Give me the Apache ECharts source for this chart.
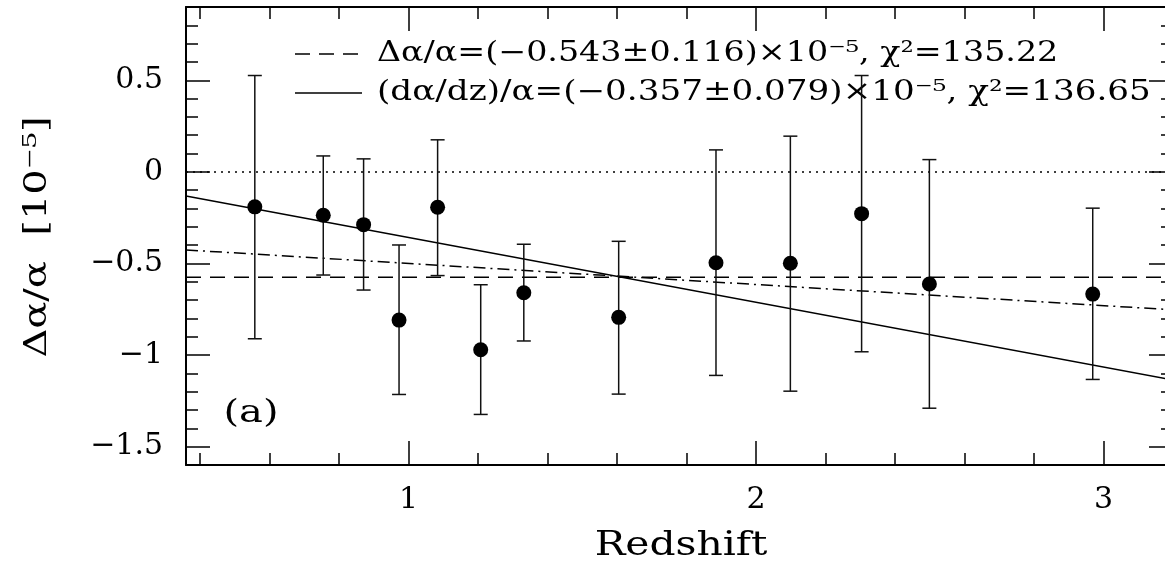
<!DOCTYPE html>
<html>
<head>
<meta charset="utf-8">
<script src="https://cdn.jsdelivr.net/npm/echarts@6/dist/echarts.min.js"></script>
<style>
html,body{margin:0;padding:0;background:#fff;}
#chart{width:1165px;height:567px;}
</style>
</head>
<body>
<div id="chart"></div>
<script>
// ---- data ----
const redshift = [0.558, 0.755, 0.871, 0.973, 1.084, 1.208, 1.332, 1.605, 1.885, 2.099, 2.304, 2.499, 2.969];
const dAlpha   = [-0.191, -0.237, -0.288, -0.809, -0.193, -0.971, -0.660, -0.794, -0.496, -0.499, -0.228, -0.612, -0.667];
const errLow   = [-0.911, -0.563, -0.645, -1.215, -0.566, -1.324, -0.923, -1.213, -1.111, -1.197, -0.982, -1.290, -1.133];
const errHigh  = [0.526, 0.087, 0.071, -0.399, 0.175, -0.616, -0.395, -0.379, 0.120, 0.195, 0.526, 0.067, -0.198];

const zeroLine    = [[0.36, 0], [3.2, 0]];
const weightedMean = [[0.36, -0.575], [3.2, -0.575]];
const slopeFit    = [[0.36, -0.132], [3.2, -1.136]];
const dashDotFit  = [[0.36, -0.426], [3.2, -0.753]];

const xMajorTicks = [1, 2, 3];
const xMinorTicks = [0.4, 0.6, 0.8, 1.2, 1.4, 1.6, 1.8, 2.2, 2.4, 2.6, 2.8, 3.0];
const yMajorTicks = [-1.5, -1, -0.5, 0, 0.5];
const yMinorTicks = [-1.4, -1.3, -1.2, -1.1, -0.9, -0.8, -0.7, -0.6, -0.4, -0.3, -0.2, -0.1, 0.1, 0.2, 0.3, 0.4, 0.6, 0.7, 0.8];

const legendTexts = [
  'Δα/α=(−0.543±0.116)×10⁻⁵, χ²=135.22',
  '(dα/dz)/α=(−0.357±0.079)×10⁻⁵, χ²=136.65'
];
const xTitle = 'Redshift';
const yTitle = 'Δα/α  [10⁻⁵]';
const panelLabel = '(a)';

// ---- chart ----
const FONT = 'DejaVu Serif';
const XMIN = 0.36, XMAX = 3.2, YMIN = -1.6, YMAX = 0.9;
const chart = echarts.init(document.getElementById('chart'), null, {renderer: 'canvas'});

function xAxisDef(position, ticks, len, showLabel, showLine) {
  return {
    type: 'value', position: position, min: XMIN, max: XMAX, gridIndex: 0,
    axisLine: {show: showLine, onZero: false, lineStyle: {color: '#000', width: 2}},
    axisTick: {show: true, inside: true, length: len, customValues: ticks, lineStyle: {color: '#000', width: 1.5}},
    axisLabel: {show: showLabel, customValues: ticks, margin: 20, color: '#000', fontFamily: FONT, fontSize: 30,
      formatter: v => String(v)},
    splitLine: {show: false}
  };
}
function yAxisDef(position, ticks, len, showLabel, showLine) {
  return {
    type: 'value', position: position, min: YMIN, max: YMAX, gridIndex: 0,
    axisLine: {show: showLine, onZero: false, lineStyle: {color: '#000', width: 2}},
    axisTick: {show: true, inside: true, length: len, customValues: ticks, lineStyle: {color: '#000', width: 1.5}},
    axisLabel: {show: showLabel, customValues: ticks, margin: 23, color: '#000', fontFamily: FONT, fontSize: 30,
      formatter: v => (v < 0 ? '−' + String(-v) : String(v))},
    splitLine: {show: false}
  };
}

const errData = redshift.map((z, i) => [z, errLow[i], errHigh[i]]);
const ptData = redshift.map((z, i) => [z, dAlpha[i]]);

function lineSeries(data, type) {
  return {
    type: 'line', data: data, xAxisIndex: 0, yAxisIndex: 0, showSymbol: false, symbol: 'none',
    silent: true, animation: false, z: 2,
    lineStyle: {color: '#000', width: 1.5, type: type}
  };
}

const option = {
  animation: false,
  backgroundColor: '#fff',
  grid: {left: 186, top: 7, right: -8, bottom: 102, containLabel: false, outerBoundsMode: 'none'},
  xAxis: [
    xAxisDef('bottom', xMajorTicks, 24, true, true),
    xAxisDef('bottom', xMinorTicks, 12, false, false),
    xAxisDef('top', xMajorTicks, 24, false, true),
    xAxisDef('top', xMinorTicks, 12, false, false)
  ],
  yAxis: [
    yAxisDef('left', yMajorTicks, 24, true, true),
    yAxisDef('left', yMinorTicks, 12, false, false),
    yAxisDef('right', yMajorTicks, 24, false, true),
    yAxisDef('right', yMinorTicks, 12, false, false)
  ],
  series: [
    lineSeries(zeroLine, [2, 5]),
    lineSeries(weightedMean, [15, 9]),
    lineSeries(slopeFit, 'solid'),
    lineSeries(dashDotFit, [12, 5, 2, 5]),
    {
      type: 'custom', xAxisIndex: 0, yAxisIndex: 0, data: errData, z: 3, silent: true,
      renderItem: function (params, api) {
        const lo = api.coord([api.value(0), api.value(1)]);
        const hi = api.coord([api.value(0), api.value(2)]);
        const w = 7;
        const st = {stroke: '#111', lineWidth: 1.5};
        return {
          type: 'group',
          children: [
            {type: 'line', shape: {x1: lo[0], y1: lo[1], x2: hi[0], y2: hi[1]}, style: st},
            {type: 'line', shape: {x1: lo[0] - w, y1: lo[1], x2: lo[0] + w, y2: lo[1]}, style: st},
            {type: 'line', shape: {x1: hi[0] - w, y1: hi[1], x2: hi[0] + w, y2: hi[1]}, style: st}
          ]
        };
      }
    },
    {
      type: 'scatter', xAxisIndex: 0, yAxisIndex: 0, data: ptData, symbol: 'circle', symbolSize: 15,
      itemStyle: {color: '#000', opacity: 1}, z: 4, silent: true
    }
  ],
  graphic: [
    {type: 'line', shape: {x1: 295, y1: 54, x2: 362, y2: 54}, style: {stroke: '#000', lineWidth: 1.5, lineDash: [15, 9]}},
    {type: 'text', x: 377, y: 54, scaleX: 1.19,
      style: {text: legendTexts[0], fontFamily: FONT, fontSize: 28, fill: '#000', align: 'left', verticalAlign: 'middle'}},
    {type: 'line', shape: {x1: 295, y1: 93, x2: 362, y2: 93}, style: {stroke: '#000', lineWidth: 1.5}},
    {type: 'text', x: 377, y: 93, scaleX: 1.22,
      style: {text: legendTexts[1], fontFamily: FONT, fontSize: 28, fill: '#000', align: 'left', verticalAlign: 'middle'}},
    {type: 'text', x: 251, y: 414, scaleX: 1.25,
      style: {text: panelLabel, fontFamily: FONT, fontSize: 32, fill: '#000', align: 'center', verticalAlign: 'middle'}},
    {type: 'text', x: 681, y: 546, scaleX: 1.2,
      style: {text: xTitle, fontFamily: FONT, fontSize: 34, fill: '#000', align: 'center', verticalAlign: 'middle'}},
    {type: 'text', x: 38, y: 237, rotation: Math.PI / 2, scaleX: 1.25,
      style: {text: yTitle, fontFamily: FONT, fontSize: 32, fill: '#000', align: 'center', verticalAlign: 'middle'}}
  ]
};
chart.setOption(option);
</script>
</body>
</html>
